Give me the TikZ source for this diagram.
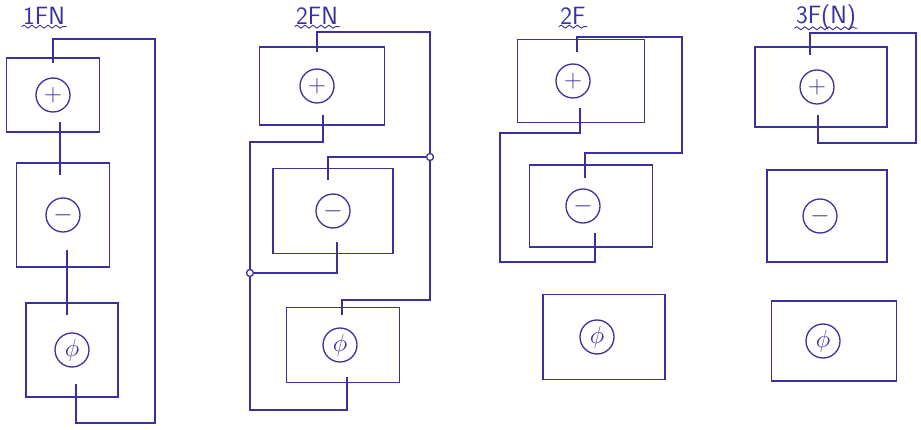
\documentclass[tikz,border=0pt]{standalone}
\usetikzlibrary{decorations.pathmorphing}
\definecolor{ink}{RGB}{58,48,158}

\begin{document}
\begin{tikzpicture}[
    x=1pt, y=-1pt, color=ink, line width=1.3pt, node distance=125pt,
    box/.style={draw, rectangle, inner sep=0pt},
    sign/.style={draw, circle, inner sep=0pt, minimum size=34pt, font=\Huge},
    junc/.style={draw, circle, fill=white, inner sep=0pt, minimum size=7pt},
    title/.style={font=\fontsize{25}{28}\selectfont\sffamily, inner sep=1pt},
    wave/.style={line width=0.9pt, decorate, decoration={snake, amplitude=1.5pt, segment length=8pt}}
]
\useasboundingbox (0,0) rectangle (921,430);

\node (title_1fn) [title] at (44,16) {1FN};
\node (title_2fn) [title] at (317,16) {2FN};
\node (title_2f) [title] at (573,16) {2F};
\node (title_3fn) [title] at (826,17) {3F(N)};
\draw [wave] ([yshift=-2pt]title_1fn.base west) -- ([yshift=-2pt]title_1fn.base east);
\draw [wave] ([yshift=-2pt]title_2fn.base west) -- ([yshift=-2pt]title_2fn.base east);
\draw [wave] ([yshift=-2pt]title_2f.base west) -- ([yshift=-2pt]title_2f.base east);
\draw [wave] ([yshift=-5pt]title_3fn.base west) -- ([yshift=-5pt]title_3fn.base east);

\node (plus_1fn) [box, minimum width=93pt, minimum height=74pt] at (53,95) {};
\node (minus_1fn) [box, minimum width=93pt, minimum height=104pt, below of=plus_1fn, xshift=10pt, yshift=5pt] {};
\node (phi_1fn) [box, minimum width=92pt, minimum height=94pt, below of=minus_1fn, xshift=9pt, yshift=-10pt] {};
\node (plus_1fn_sign) [sign] at (plus_1fn) {$+$};
\node (minus_1fn_sign) [sign] at (minus_1fn) {$-$};
\node (phi_1fn_sign) [sign] at (phi_1fn) {$\phi$};

\node (plus_2fn) [box, minimum width=125pt, minimum height=78pt] at (322,86) {};
\node (minus_2fn) [box, minimum width=120pt, minimum height=85pt, below of=plus_2fn, xshift=11pt] {};
\node (phi_2fn) [box, minimum width=113pt, minimum height=75pt, below of=minus_2fn, xshift=10pt, yshift=-9pt] {};
\node (plus_2fn_sign) [sign] at ([xshift=-5pt]plus_2fn.center) {$+$};
\node (minus_2fn_sign) [sign] at (minus_2fn) {$-$};
\node (phi_2fn_sign) [sign] at ([xshift=-3pt]phi_2fn.center) {$\phi$};

\node (plus_2f) [box, minimum width=127pt, minimum height=83pt] at (581,81) {};
\node (minus_2f) [box, minimum width=123pt, minimum height=82pt, below of=plus_2f, xshift=10pt] {};
\node (phi_2f) [box, minimum width=122pt, minimum height=85pt, below of=minus_2f, xshift=13pt, yshift=-6pt] {};
\node (plus_2f_sign) [sign] at ([xshift=-8pt]plus_2f.center) {$+$};
\node (minus_2f_sign) [sign] at ([xshift=-8pt]minus_2f.center) {$-$};
\node (phi_2f_sign) [sign] at ([xshift=-7pt]phi_2f.center) {$\phi$};

\node (plus_3fn) [box, minimum width=132pt, minimum height=80pt] at (821,87) {};
\node (minus_3fn) [box, minimum width=120pt, minimum height=92pt, below of=plus_3fn, xshift=6pt, yshift=-4pt] {};
\node (phi_3fn) [box, minimum width=125pt, minimum height=80pt, below of=minus_3fn, xshift=7pt] {};
\node (plus_3fn_sign) [sign] at ([xshift=-4pt]plus_3fn.center) {$+$};
\node (minus_3fn_sign) [sign] at ([xshift=-7pt]minus_3fn.center) {$-$};
\node (phi_3fn_sign) [sign] at ([xshift=-11pt]phi_3fn.center) {$\phi$};

\coordinate (plus_1fn_top) at (53,63);
\coordinate (plus_1fn_bot) at (60,122);
\coordinate (minus_1fn_top) at (60,175);
\coordinate (minus_1fn_bot) at (67,250);
\coordinate (phi_1fn_top) at (67,315);
\coordinate (phi_1fn_bot) at (76,384);
\coordinate (loop_1fn) at (155,39);
\draw (plus_1fn_top) |- (loop_1fn) -- ++(0,384) -| (phi_1fn_bot);
\draw (plus_1fn_bot) -- (minus_1fn_top);
\draw (minus_1fn_bot) -- (phi_1fn_top);

\coordinate (plus_2fn_top) at (317,52);
\coordinate (plus_2fn_bot) at (323,115);
\coordinate (minus_2fn_top) at (328,180);
\coordinate (minus_2fn_bot) at (337,242);
\coordinate (phi_2fn_top) at (342,315);
\coordinate (phi_2fn_bot) at (347,377);
\coordinate (bus_2fn_right_top) at (430,32);
\coordinate (bus_2fn_right_bot) at (430,300);
\coordinate (bus_2fn_left_top) at (250,142);
\coordinate (bus_2fn_left_bot) at (250,410);
\node (junc_2fn_right) [junc] at (430,157) {};
\node (junc_2fn_left) [junc] at (250,273) {};
\draw (plus_2fn_top) |- (bus_2fn_right_top) -- (junc_2fn_right) -- (bus_2fn_right_bot) -| (phi_2fn_top);
\draw (junc_2fn_right) -| (minus_2fn_top);
\draw (plus_2fn_bot) |- (bus_2fn_left_top) -- (junc_2fn_left) -- (bus_2fn_left_bot) -| (phi_2fn_bot);
\draw (minus_2fn_bot) |- (junc_2fn_left);

\coordinate (plus_2f_top) at (577,52);
\coordinate (plus_2f_bot) at (580,108);
\coordinate (minus_2f_top) at (585,178);
\coordinate (minus_2f_bot) at (595,233);
\coordinate (loop_2f_right) at (682,37);
\coordinate (loop_2f_left) at (500,133);
\draw (plus_2f_top) |- (loop_2f_right) -- ++(0,116) -| (minus_2f_top);
\draw (plus_2f_bot) |- (loop_2f_left) -- ++(0,129) -| (minus_2f_bot);

\coordinate (plus_3fn_top) at (810,55);
\coordinate (plus_3fn_bot) at (818,115);
\coordinate (loop_3fn) at (916,33);
\draw (plus_3fn_top) |- (loop_3fn) -- ++(0,110) -| (plus_3fn_bot);
\end{tikzpicture}
\end{document}
